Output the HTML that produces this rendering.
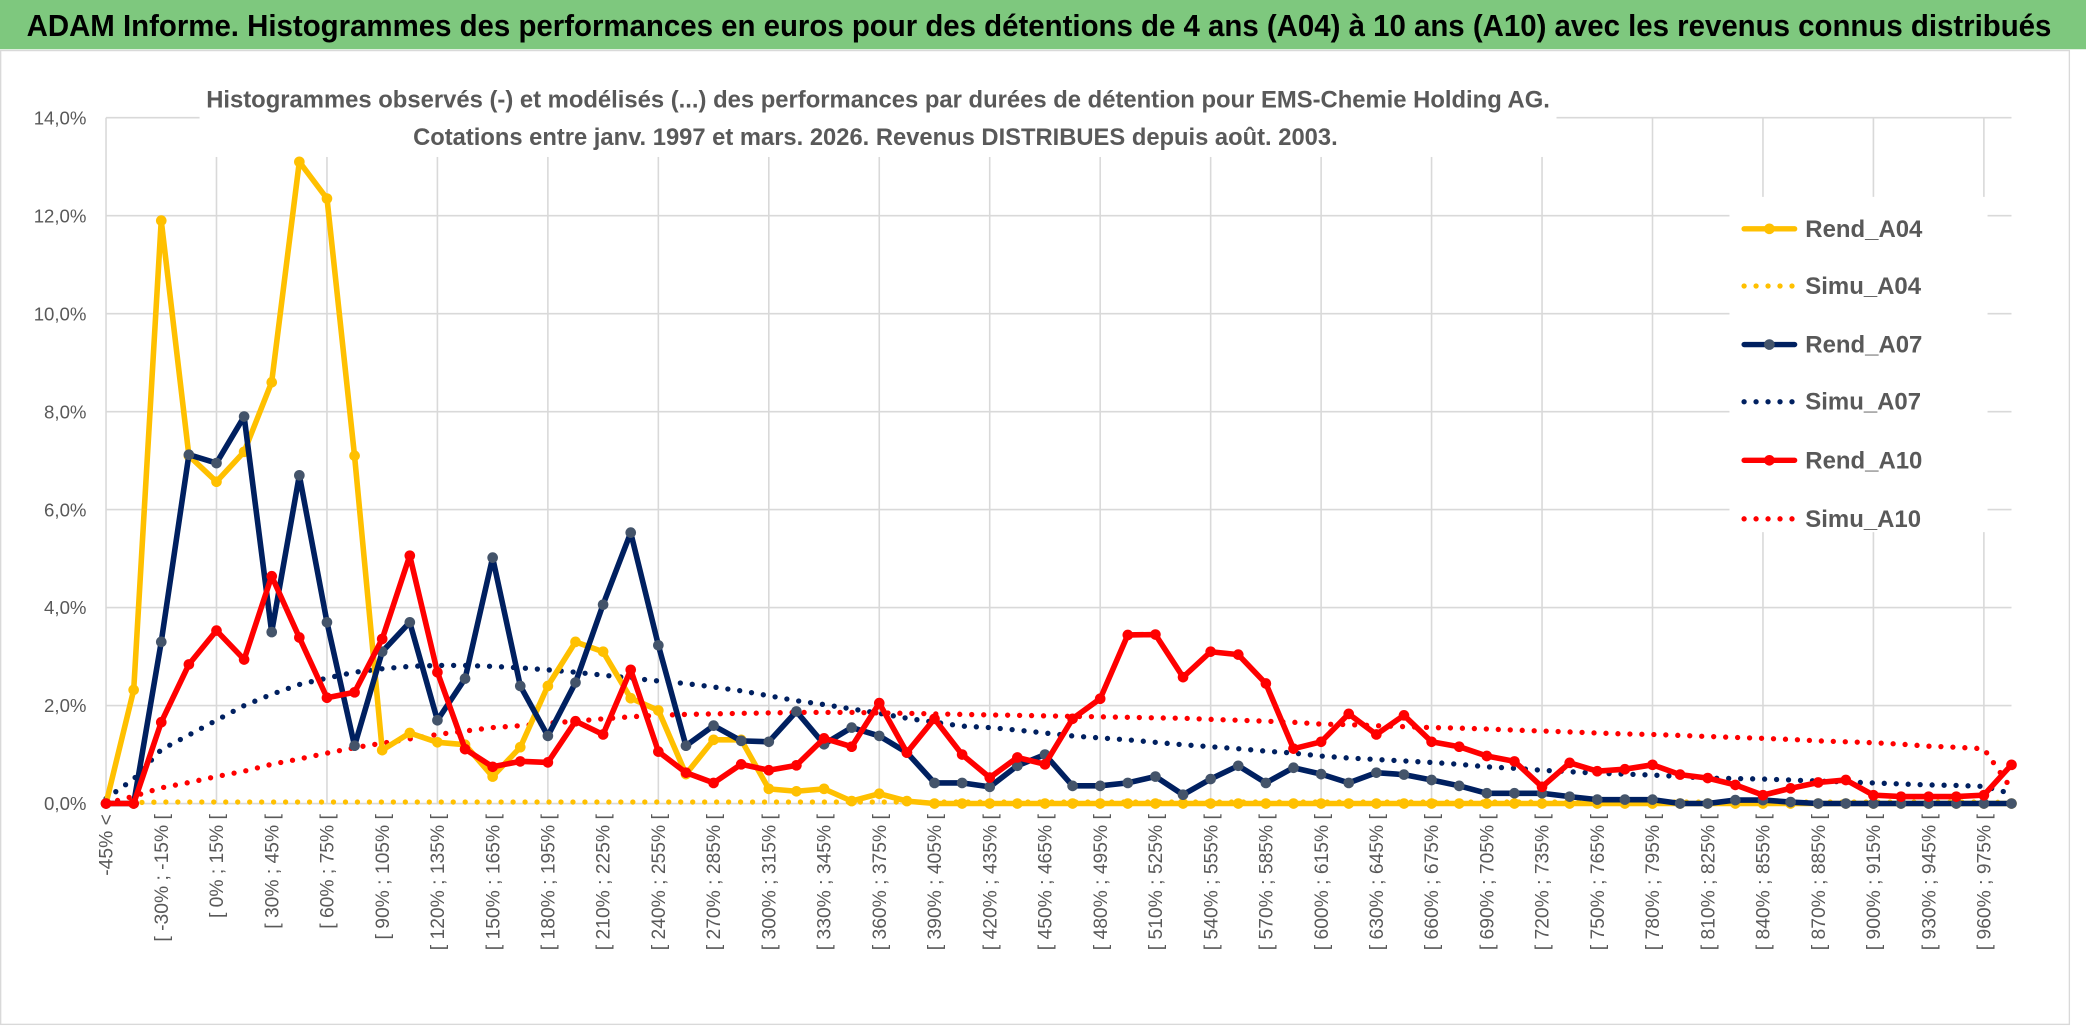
<!DOCTYPE html>
<html><head><meta charset="utf-8"><style>
html,body{margin:0;padding:0;background:#fff;}
svg{display:block;font-family:"Liberation Sans",sans-serif;}
</style></head><body>
<svg id="chart" width="2086" height="1031" viewBox="0 0 1568 775" preserveAspectRatio="none" xmlns="http://www.w3.org/2000/svg">
<rect x="0" y="0" width="1568" height="775" fill="#fff"/>
<rect x="0" y="0" width="1568" height="37" fill="#7ec87e"/>
<text x="20" y="27" font-size="23" font-weight="bold" fill="#000" textLength="1522" lengthAdjust="spacingAndGlyphs">ADAM Informe. Histogrammes des performances en euros pour des détentions de 4 ans (A04) à 10 ans (A10) avec les revenus connus distribués</text>
<rect x="0.5" y="38" width="1555" height="732" fill="none" stroke="#d9d9d9" stroke-width="1"/>
<g id="grid"></g>
<rect x="150" y="58" width="1020" height="60" fill="#fff"/>
<text x="660" y="81" font-size="18" font-weight="bold" fill="#595959" text-anchor="middle" textLength="1010" lengthAdjust="spacingAndGlyphs">Histogrammes observés (-) et modélisés (...) des performances par durées de détention pour EMS-Chemie Holding AG.</text>
<text x="658" y="109" font-size="18" font-weight="bold" fill="#595959" text-anchor="middle" textLength="695" lengthAdjust="spacingAndGlyphs">Cotations entre janv. 1997 et mars. 2026. Revenus DISTRIBUES depuis août. 2003.</text>
<rect x="1300" y="148" width="194" height="252" fill="#fff"/>
<g id="axes"></g>
<g id="series"></g>
<g id="legend"></g>
</svg>
<script>
const yTicks = [0,2,4,6,8,10,12,14];
const rendA04 = [0,2.32,11.9,7.1,6.57,7.18,8.6,13.1,12.35,7.1,1.09,1.44,1.25,1.2,0.55,1.15,2.4,3.3,3.1,2.15,1.9,0.6,1.3,1.3,0.3,0.25,0.3,0.05,0.2,0.05,0,0,0,0,0,0,0,0,0,0,0,0,0,0,0,0,0,0,0,0,0,0,0,0,0,0,0,0,0,0,0,0,0,0,0,0,0,0,0,0];
const simuA04 = [0,0.02,0.03,0.03,0.03,0.03,0.03,0.03,0.03,0.03,0.03,0.03,0.03,0.03,0.03,0.03,0.03,0.03,0.03,0.03,0.03,0.03,0.03,0.03,0.03,0.03,0.03,0.03,0.03,0.03,0.03,0.03,0.03,0.03,0.03,0.03,0.03,0.03,0.03,0.03,0.03,0.03,0.03,0.03,0.03,0.03,0.03,0.03,0.03,0.03,0.03,0.03,0.03,0.03,0.03,0.03,0.03,0.03,0.03,0.03,0.03,0.03,0.03,0.03,0.03,0.03,0.03,0.03,0.03,0.02];
const rendA07 = [0,0,3.3,7.12,6.95,7.9,3.5,6.7,3.7,1.18,3.1,3.7,1.7,2.55,5.02,2.4,1.38,2.47,4.06,5.53,3.23,1.18,1.59,1.28,1.26,1.88,1.21,1.55,1.38,1.04,0.42,0.42,0.34,0.77,1.0,0.36,0.36,0.42,0.55,0.18,0.5,0.77,0.42,0.73,0.6,0.42,0.63,0.59,0.48,0.36,0.21,0.21,0.21,0.14,0.08,0.08,0.08,0,0,0.07,0.07,0.03,0,0,0,0,0,0,0,0];
const simuA07 = [0.1,0.5,1.1,1.4,1.7,2.0,2.23,2.43,2.56,2.68,2.75,2.8,2.82,2.82,2.8,2.77,2.73,2.68,2.62,2.56,2.5,2.45,2.38,2.3,2.2,2.1,2.02,1.93,1.84,1.74,1.66,1.58,1.55,1.5,1.44,1.38,1.34,1.3,1.25,1.2,1.16,1.12,1.07,1.03,0.97,0.93,0.9,0.87,0.84,0.8,0.75,0.72,0.68,0.65,0.62,0.6,0.58,0.55,0.52,0.51,0.5,0.48,0.46,0.44,0.42,0.4,0.38,0.37,0.35,0.2];
const rendA10 = [0,0,1.66,2.84,3.53,2.94,4.64,3.39,2.16,2.27,3.36,5.06,2.68,1.11,0.75,0.86,0.84,1.68,1.41,2.73,1.06,0.63,0.42,0.8,0.68,0.78,1.33,1.16,2.05,1.04,1.73,1.0,0.53,0.94,0.8,1.73,2.14,3.44,3.45,2.58,3.1,3.04,2.45,1.12,1.26,1.83,1.41,1.8,1.26,1.16,0.97,0.86,0.34,0.83,0.66,0.7,0.79,0.59,0.52,0.38,0.17,0.31,0.43,0.48,0.17,0.14,0.14,0.14,0.17,0.79];
const simuA10 = [0,0.15,0.32,0.43,0.55,0.66,0.8,0.91,1.03,1.14,1.23,1.32,1.41,1.48,1.55,1.59,1.64,1.68,1.73,1.77,1.8,1.82,1.83,1.84,1.85,1.86,1.86,1.86,1.85,1.84,1.83,1.82,1.81,1.8,1.79,1.78,1.77,1.76,1.75,1.74,1.72,1.7,1.68,1.66,1.62,1.61,1.59,1.57,1.55,1.54,1.52,1.5,1.48,1.46,1.44,1.42,1.41,1.39,1.37,1.35,1.33,1.31,1.28,1.26,1.24,1.21,1.17,1.15,1.12,0.3];
const seriesNames = ["Rend_A04","Simu_A04","Rend_A07","Simu_A07","Rend_A10","Simu_A10"];

const NS="http://www.w3.org/2000/svg";
const X0=79.7, X1=1512, Y0=604, YTOP=88.5, YMAX=14;
const N=rendA04.length;
function xPos(i){return X0+(X1-X0)*i/(N-1);}
function yPos(v){return Y0-(Y0-YTOP)*v/YMAX;}
function mk(tag,attrs,parent){const e=document.createElementNS(NS,tag);for(const k in attrs)e.setAttribute(k,attrs[k]);parent.appendChild(e);return e;}
function catLabel(i){if(i===0)return "-45% <";const lo=-45+15*(i-1);return "[ "+lo+"% ; "+(lo+15)+"% ["; }

const grid=document.getElementById('grid');
yTicks.forEach(t=>{
  const l=mk('line',{x1:X0,x2:X1,y1:yPos(t),y2:yPos(t),stroke:'#d9d9d9','stroke-width':1.2},grid);
  
  
});
for(let i=0;i<N;i+=4){
  const l=mk('line',{x1:xPos(i),x2:xPos(i),y1:YTOP,y2:Y0,stroke:'#d9d9d9','stroke-width':1.2},grid);
  
  
}
const axes=document.getElementById('axes');
yTicks.forEach(t=>{
  const tx=mk('text',{x:65,y:yPos(t)+5,'font-size':14,fill:'#595959','text-anchor':'end'},axes);
  tx.textContent=t.toFixed(1).replace('.',',')+'%';
  
  
});
for(let i=0;i<N;i+=2){
  const x=xPos(i)+5, y=612;
  const tx=mk('text',{x:x,y:y,'font-size':14.5,fill:'#595959','text-anchor':'end',transform:'rotate(-90 '+x+' '+y+')'},axes);
  tx.textContent=catLabel(i);
  
  
}
const ser=document.getElementById('series');
const styles=[
 {data:simuA04,c:'#ffc000',dot:true},
 {data:simuA07,c:'#002060',dot:true},
 {data:simuA10,c:'#ff0000',dot:true},
 {data:rendA04,c:'#ffc000',m:'#ffc000'},
 {data:rendA07,c:'#002060',m:'#44546a'},
 {data:rendA10,c:'#ff0000',m:'#ff0000'}];
const names=["simu-a04-line","simu-a07-line","simu-a10-line","rend-a04-line","rend-a07-line","rend-a10-line"];
styles.forEach((s,k)=>{
  const pts=s.data.map((v,i)=>xPos(i).toFixed(1)+','+yPos(v).toFixed(1)).join(' ');
  const pl=mk('polyline',{points:pts,fill:'none',stroke:s.c,'stroke-width':s.dot?4:4.2,'stroke-linejoin':'round','stroke-linecap':'round'},ser);
  if(s.dot)pl.setAttribute('stroke-dasharray','0 9');
  
  
  if(!s.dot){s.data.forEach((v,i)=>{
    const c=mk('circle',{cx:xPos(i),cy:yPos(v),r:4,fill:s.m},ser);
    
    
  });}
});
const leg=document.getElementById('legend');
const legStyle=[{c:'#ffc000',m:'#ffc000'},{c:'#ffc000',dot:true},{c:'#002060',m:'#44546a'},{c:'#002060',dot:true},{c:'#ff0000',m:'#ff0000'},{c:'#ff0000',dot:true}];
const legY=[172,215,259,302,346,390];
seriesNames.forEach((n,k)=>{
  const g=mk('g',{},leg);
  
  
  const s=legStyle[k], y=legY[k];
  const l=mk('line',{x1:1311,x2:1349,y1:y,y2:y,stroke:s.c,'stroke-width':4,'stroke-linecap':'round'},g);
  if(s.dot)l.setAttribute('stroke-dasharray','0 9');
  if(!s.dot)mk('circle',{cx:1330,cy:y,r:4,fill:s.m},g);
  const t=mk('text',{x:1357,y:y+6,'font-size':18,'font-weight':'bold',fill:'#595959'},g);
  t.textContent=n;
});
</script>
</body></html>
